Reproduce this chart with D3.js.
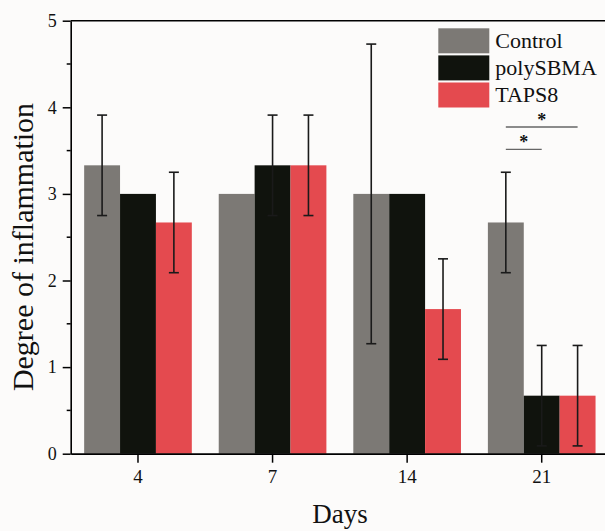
<!DOCTYPE html>
<html><head><meta charset="utf-8">
<script src="https://cdn.jsdelivr.net/npm/d3@7"></script>
<style>html,body{margin:0;padding:0;background:#fcfbfa;}svg{display:block;}</style>
</head><body>
<svg id="c" width="605" height="531"></svg>
<script>
const days = ["4", "7", "14", "21"];
const series = ["Control", "polySBMA", "TAPS8"];
const controlVals = [3.33, 3.0, 3.0, 2.67];
const controlErr = [0.58, 0, 1.73, 0.58];
const polyVals = [3.0, 3.33, 3.0, 0.67];
const polyErr = [0, 0.58, 0, 0.58];
const tapsVals = [2.67, 3.33, 1.67, 0.67];
const tapsErr = [0.58, 0.58, 0.58, 0.58];
const yTicks = [0, 1, 2, 3, 4, 5];
const colors = ["#7c7975", "#10130d", "#e44a4f"];
const sigPairs = [{day: "21", a: "Control", b: "TAPS8", level: 0}, {day: "21", a: "Control", b: "polySBMA", level: 1}];

const svg = d3.select("#c");
const font = "'Liberation Serif','Times New Roman',serif";
const L = 70.7, R = 609, T = 20.7, B = 453.7;

const x = d3.scaleBand().domain(days).range([L, R]).paddingInner(0.2).paddingOuter(0.1);
const xs = d3.scaleBand().domain(series).range([0, x.bandwidth()]);
const y = d3.scaleLinear().domain([0, 5]).range([B, T]);

const vals = [controlVals, polyVals, tapsVals];
const errs = [controlErr, polyErr, tapsErr];
const data = [];
series.forEach((s, si) => days.forEach((d, di) => data.push({s, si, d, v: vals[si][di], e: errs[si][di]})));

// bars
svg.append("g").selectAll("rect").data(data).join("rect")
  .attr("x", d => x(d.d) + xs(d.s))
  .attr("y", d => y(d.v))
  .attr("width", xs.bandwidth())
  .attr("height", d => y(0) - y(d.v))
  .attr("fill", d => colors[d.si]);

// error bars
const eb = svg.append("g").attr("stroke", "#1a1a1a").attr("stroke-width", 1.6);
data.filter(d => d.e > 0).forEach(d => {
  const cx = x(d.d) + xs(d.s) + xs.bandwidth() / 2;
  eb.append("line").attr("x1", cx).attr("x2", cx).attr("y1", y(d.v + d.e)).attr("y2", y(d.v - d.e));
  [d.v + d.e, d.v - d.e].forEach(v => eb.append("line").attr("x1", cx - 5).attr("x2", cx + 5).attr("y1", y(v)).attr("y2", y(v)));
});

// axes
const yAxis = svg.append("g").attr("transform", `translate(${L},0)`)
  .call(d3.axisLeft(y).tickValues(yTicks).tickSize(8).tickSizeOuter(0).tickFormat(d3.format("d")));
yAxis.select(".domain").attr("stroke-width", 1.6);
yAxis.selectAll(".tick line").attr("stroke-width", 1.5);
yAxis.selectAll(".tick text").attr("font-family", font).attr("font-size", 18).attr("fill", "#111").attr("x", -14);
// minor ticks
svg.append("g").selectAll("line").data(d3.range(0.5, 5, 1)).join("line")
  .attr("x1", L - 4).attr("x2", L).attr("y1", d => y(d)).attr("y2", d => y(d))
  .attr("stroke", "#000").attr("stroke-width", 1.5);

const xAxis = svg.append("g").attr("transform", `translate(0,${B})`)
  .call(d3.axisBottom(x).tickSize(9).tickSizeOuter(0));
xAxis.select(".domain").attr("stroke-width", 1.8);
xAxis.selectAll(".tick line").attr("stroke-width", 1.5);
xAxis.selectAll(".tick text").attr("font-family", font).attr("font-size", 19).attr("fill", "#111").attr("y", 16);

// top frame
svg.append("line").attr("x1", L).attr("x2", R).attr("y1", T).attr("y2", T).attr("stroke", "#000").attr("stroke-width", 1.6);

// axis titles
svg.append("text").attr("x", (L + 609) / 2 - 0).attr("y", 523).attr("text-anchor", "middle")
  .attr("font-family", font).attr("font-size", 27).attr("fill", "#111").text("Days")
  .attr("x", 340);
svg.append("text").attr("transform", `translate(33,247) rotate(-90)`).attr("text-anchor", "middle")
  .attr("font-family", font).attr("font-size", 30).attr("fill", "#111").text("Degree of inflammation");

// legend
const lg = svg.append("g").attr("transform", "translate(438.3,28.3)");
series.forEach((s, i) => {
  lg.append("rect").attr("x", 0).attr("y", i * 27.1).attr("width", 51).attr("height", 25).attr("fill", colors[i]);
  lg.append("text").attr("x", 57).attr("y", i * 27.1 + 19.5).attr("font-family", font).attr("font-size", 22).attr("fill", "#111").text(s);
});

// significance
sigPairs.forEach(p => {
  const xa = x(p.day) + xs(p.a) + xs.bandwidth() / 2;
  const xb = x(p.day) + xs(p.b) + xs.bandwidth() / 2;
  const ly = 127 + p.level * 22.3;
  svg.append("line").attr("x1", xa).attr("x2", xb).attr("y1", ly).attr("y2", ly).attr("stroke", "#666").attr("stroke-width", 1.3);
  svg.append("text").attr("x", (xa + xb) / 2).attr("y", ly - 1).attr("text-anchor", "middle")
    .attr("font-family", font).attr("font-size", 18).attr("font-weight", "bold").attr("fill", "#111").text("*");
});
</script>
</body></html>
